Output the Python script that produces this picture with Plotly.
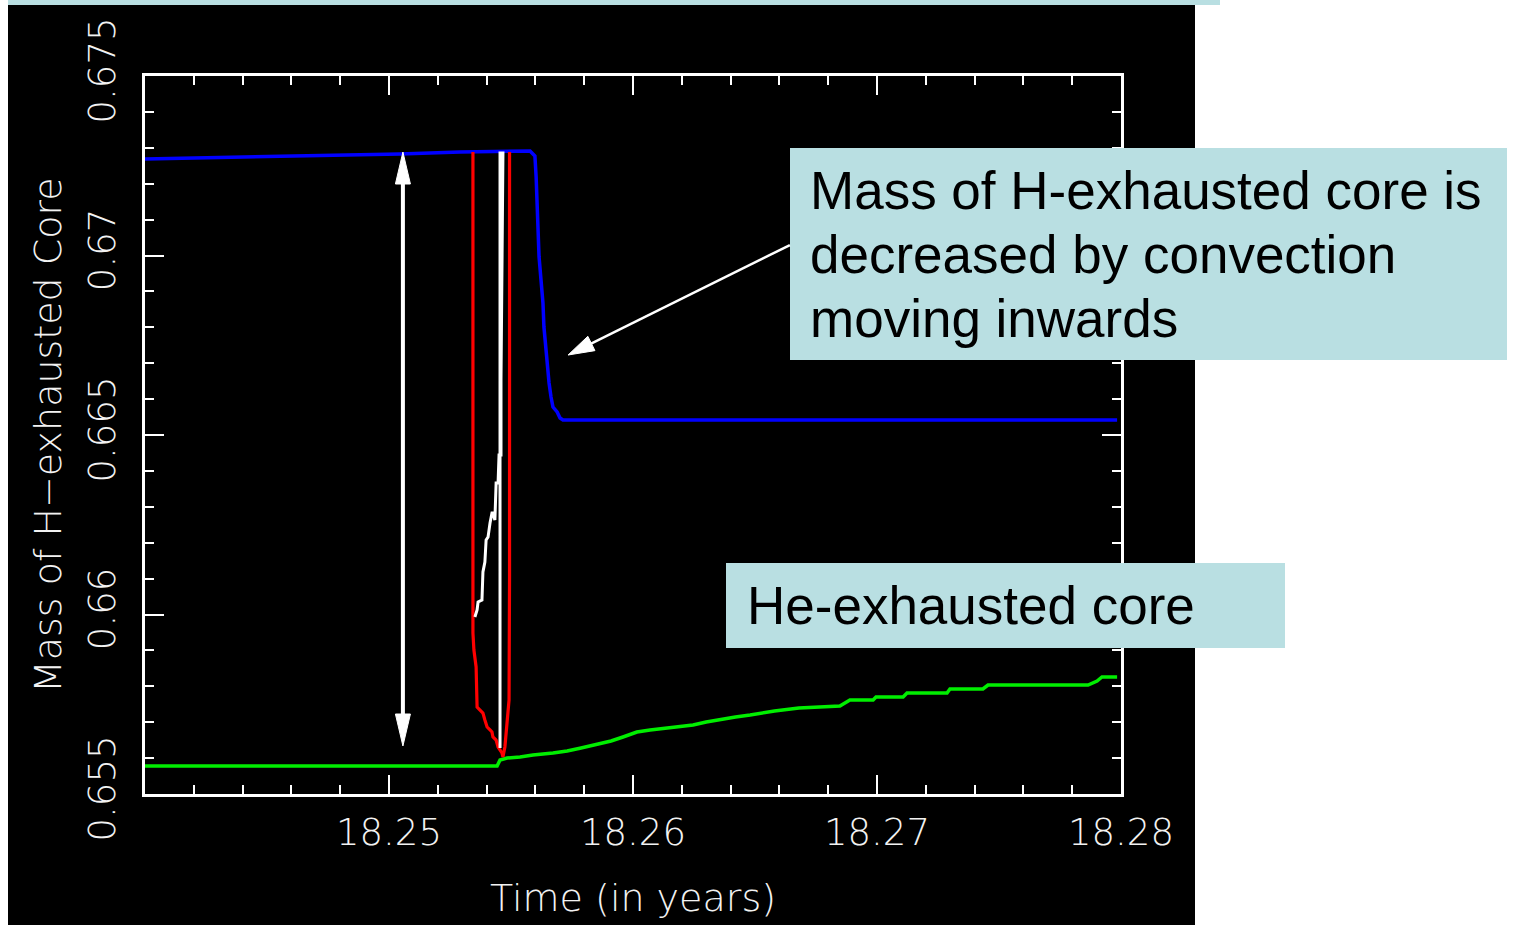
import plotly.graph_objects as go

# ---------------------------------------------------------------------------
# Data: time (years) and enclosed mass of the cores
# ---------------------------------------------------------------------------
# Mass of the H-exhausted core (blue)
h_core_time = [18.24000, 18.24635, 18.25045, 18.25291, 18.25451, 18.25578,
               18.25590, 18.25598, 18.25603, 18.25607, 18.25611, 18.25615,
               18.25623, 18.25631, 18.25635, 18.25643, 18.25648, 18.25656,
               18.25664, 18.25672, 18.25689, 18.25701, 18.25713, 18.27984]
h_core_mass = [0.672688, 0.672771, 0.672827, 0.672883, 0.672911, 0.672911,
               0.672827, 0.672771, 0.672187, 0.671351, 0.670710, 0.669958,
               0.669317, 0.668677, 0.668008, 0.667451, 0.666894, 0.666448,
               0.666058, 0.665780, 0.665641, 0.665473, 0.665418, 0.665418]

# Mass of the He-exhausted core (green)
he_core_time = [18.24000, 18.25443, 18.25455, 18.25484, 18.25537, 18.25590,
                18.25672, 18.25730, 18.25787, 18.25865, 18.25910, 18.25959,
                18.26016, 18.26070, 18.26131, 18.26190, 18.26246, 18.26300,
                18.26361, 18.26420, 18.26480, 18.26580, 18.26680, 18.26848,
                18.26889, 18.26984, 18.26996, 18.27107, 18.27123, 18.27287,
                18.27299, 18.27434, 18.27455, 18.27865, 18.27902, 18.27922,
                18.27984]
he_core_mass = [0.655780, 0.655780, 0.655947, 0.656003, 0.656031, 0.656086,
                0.656142, 0.656198, 0.656281, 0.656393, 0.656476, 0.656588,
                0.656727, 0.656783, 0.656838, 0.656894, 0.656922, 0.657006,
                0.657089, 0.657145, 0.657200, 0.657311, 0.657395, 0.657451,
                0.657618, 0.657618, 0.657702, 0.657702, 0.657813, 0.657813,
                0.657925, 0.657925, 0.658036, 0.658036, 0.658148, 0.658259,
                0.658259]

# Boundary of the convective zone (red)
conv_time = [18.25344, 18.25344, 18.25348, 18.25357, 18.25361, 18.25373,
             18.25385, 18.25393, 18.25402, 18.25414, 18.25422, 18.25426,
             18.25439, 18.25447, 18.25463, 18.25467, 18.25475, 18.25492,
             18.25494, 18.25494]
conv_mass = [0.672883, 0.659485, 0.659011, 0.658538, 0.657423, 0.657340,
             0.657256, 0.657061, 0.656866, 0.656783, 0.656727, 0.656588,
             0.656504, 0.656309, 0.656142, 0.656031, 0.656309, 0.657618,
             0.661045, 0.672883]

# Inner edge of the burning shell (white)
shell_time = [18.25352, 18.25361, 18.25365, 18.25381, 18.25385, 18.25393,
              18.25398, 18.25406, 18.25414, 18.25422, 18.25426, 18.25434,
              18.25439, 18.25447, 18.25451, 18.25459, 18.25459, 18.25463,
              18.25467, 18.25455, 18.25455]
shell_mass = [0.659930, 0.660125, 0.660348, 0.660404, 0.661184, 0.661462,
              0.662075, 0.662159, 0.662549, 0.662827, 0.662827, 0.662632,
              0.663663, 0.663663, 0.664443, 0.664443, 0.666532, 0.671323,
              0.672855, 0.672855, 0.656281]

# Axis ticks
x_tick_vals = [18.25, 18.26, 18.27, 18.28]
x_tick_text = ["18.25", "18.26", "18.27", "18.28"]
y_tick_vals = [0.655, 0.66, 0.665, 0.67, 0.675]
y_tick_text = ["0.655", "0.66", "0.665", "0.67", "0.675"]

# Double arrow marking the span of the convective episode
span_time = 18.25057
span_top = 0.672883
span_bottom = 0.656337

# Pointer from the text box to the drop of the H-exhausted core
pointer_tip = (18.25734, 0.667228)
pointer_tail = (18.26643, 0.670292)

# ---------------------------------------------------------------------------
# Page geometry
# ---------------------------------------------------------------------------
W, H = 1515, 925
ML, MT = 145, 76
PW, PH = 976, 718
MR = W - ML - PW
MB = H - MT - PH
X_RANGE = [18.24, 18.28]
Y_RANGE = [0.655, 0.675]
X_PER_PX = (X_RANGE[1] - X_RANGE[0]) / PW
Y_PER_PX = (Y_RANGE[1] - Y_RANGE[0]) / PH

PANEL = "#b9dfe2"
FONT_FAMILY = "DejaVu Sans, Roboto, sans-serif"
TITLE_FONT = dict(family=FONT_FAMILY, size=38, color="#f2f2f2", weight=200)
TICK_FONT = dict(family=FONT_FAMILY, size=37, color="#f2f2f2", weight=200)
BOX_FONT = dict(family="Liberation Sans, Arial, sans-serif", size=53,
                color="black")


def px_x(px):
    return (px - ML) / PW


def px_y(py):
    return (MT + PH - py) / PH


fig = go.Figure()

fig.add_trace(go.Scatter(x=he_core_time, y=he_core_mass, mode="lines",
                         line=dict(color="#00ee00", width=3.5)))
fig.add_trace(go.Scatter(x=h_core_time, y=h_core_mass, mode="lines",
                         line=dict(color="#0000ff", width=3.5)))
fig.add_trace(go.Scatter(x=conv_time, y=conv_mass, mode="lines",
                         line=dict(color="#ff0000", width=3.2)))
fig.add_trace(go.Scatter(x=shell_time, y=shell_mass, mode="lines",
                         line=dict(color="white", width=3)))

shapes = []
# black slide image behind the plot
shapes.append(dict(type="rect", xref="paper", yref="paper", layer="below",
                   x0=px_x(8), x1=px_x(1195), y0=px_y(940), y1=px_y(5),
                   fillcolor="black", line=dict(width=0)))
# coloured strip along the top of the slide
shapes.append(dict(type="rect", xref="paper", yref="paper", layer="above",
                   x0=px_x(8), x1=px_x(1220), y0=px_y(5), y1=px_y(-2),
                   fillcolor=PANEL, line=dict(width=0)))
# text boxes
shapes.append(dict(type="rect", xref="paper", yref="paper", layer="above",
                   x0=px_x(790), x1=px_x(1507), y0=px_y(360), y1=px_y(148),
                   fillcolor=PANEL, line=dict(width=0)))
shapes.append(dict(type="rect", xref="paper", yref="paper", layer="above",
                   x0=px_x(726), x1=px_x(1285), y0=px_y(648), y1=px_y(563),
                   fillcolor=PANEL, line=dict(width=0)))

# vertical double arrow
HEAD_L, HEAD_W = 32, 15
shapes.append(dict(type="line", xref="x", yref="y", layer="above",
                   x0=span_time, x1=span_time,
                   y0=span_top - 20 * Y_PER_PX, y1=span_bottom + 20 * Y_PER_PX,
                   line=dict(color="white", width=4)))
for anchor, sgn in ((span_top, -1), (span_bottom, 1)):
    shapes.append(dict(type="path", xref="x", yref="y", layer="above",
                       xsizemode="pixel", ysizemode="pixel",
                       xanchor=span_time, yanchor=anchor,
                       path=f"M0,0 L{-HEAD_W/2},{sgn*HEAD_L} L{HEAD_W/2},{sgn*HEAD_L} Z",
                       fillcolor="white", line=dict(color="white", width=1)))

# diagonal pointer arrow
dx = (pointer_tip[0] - pointer_tail[0]) / X_PER_PX
dy = (pointer_tip[1] - pointer_tail[1]) / Y_PER_PX
norm = (dx * dx + dy * dy) ** 0.5
ux, uy = dx / norm, dy / norm
nx, ny = -uy, ux
PL, PWD = 26, 16
shapes.append(dict(type="line", xref="x", yref="y", layer="above",
                   x0=pointer_tail[0], y0=pointer_tail[1],
                   x1=pointer_tip[0] - ux * 15 * X_PER_PX,
                   y1=pointer_tip[1] - uy * 15 * Y_PER_PX,
                   line=dict(color="white", width=2.5)))
bx, by = -PL * ux, -PL * uy
shapes.append(dict(type="path", xref="x", yref="y", layer="above",
                   xsizemode="pixel", ysizemode="pixel",
                   xanchor=pointer_tip[0], yanchor=pointer_tip[1],
                   path=(f"M0,0 L{bx + nx*PWD/2:.2f},{by + ny*PWD/2:.2f} "
                         f"L{bx - nx*PWD/2:.2f},{by - ny*PWD/2:.2f} Z"),
                   fillcolor="white", line=dict(color="white", width=1)))

annotations = [
    dict(text="Mass of H−exhausted Core", textangle=-90, xref="paper",
         yref="paper", x=px_x(48), y=px_y(435), xanchor="center",
         yanchor="middle", showarrow=False, font=TITLE_FONT),
    dict(text="Time (in years)", xref="paper", yref="paper", x=px_x(633),
         y=px_y(898), xanchor="center", yanchor="middle", showarrow=False,
         font=TITLE_FONT),
    dict(text="Mass of H-exhausted core is", xref="paper", yref="paper",
         x=px_x(808), y=px_y(190), xanchor="left", yanchor="middle",
         showarrow=False, font=BOX_FONT),
    dict(text="decreased by convection", xref="paper", yref="paper",
         x=px_x(808), y=px_y(254), xanchor="left", yanchor="middle",
         showarrow=False, font=BOX_FONT),
    dict(text="moving inwards", xref="paper", yref="paper",
         x=px_x(808), y=px_y(318), xanchor="left", yanchor="middle",
         showarrow=False, font=BOX_FONT),
    dict(text="He-exhausted core", xref="paper", yref="paper",
         x=px_x(745), y=px_y(605), xanchor="left", yanchor="middle",
         showarrow=False, font=BOX_FONT),
]

axis_common = dict(showgrid=False, zeroline=False, showline=True,
                   linecolor="white", linewidth=2.5, mirror="allticks",
                   ticks="inside", ticklen=19, tickwidth=2,
                   tickcolor="white", tickfont=TICK_FONT)

fig.update_layout(
    width=W, height=H, autosize=False,
    margin=dict(l=ML, r=MR, t=MT, b=MB, pad=0),
    paper_bgcolor="white", plot_bgcolor="black",
    showlegend=False,
    shapes=shapes, annotations=annotations,
    xaxis=dict(range=X_RANGE, tickvals=x_tick_vals, ticktext=x_tick_text,
               ticklabelstandoff=4,
               minor=dict(tick0=18.24, dtick=0.002, ticks="inside",
                          ticklen=9, tickwidth=2, tickcolor="white"),
               **axis_common),
    yaxis=dict(range=Y_RANGE, tickvals=y_tick_vals, ticktext=y_tick_text,
               tickangle=-90, ticklabelstandoff=12,
               minor=dict(tick0=0.655, dtick=0.001, ticks="inside",
                          ticklen=9, tickwidth=2, tickcolor="white"),
               **axis_common),
)

fig.write_html("out.html")
